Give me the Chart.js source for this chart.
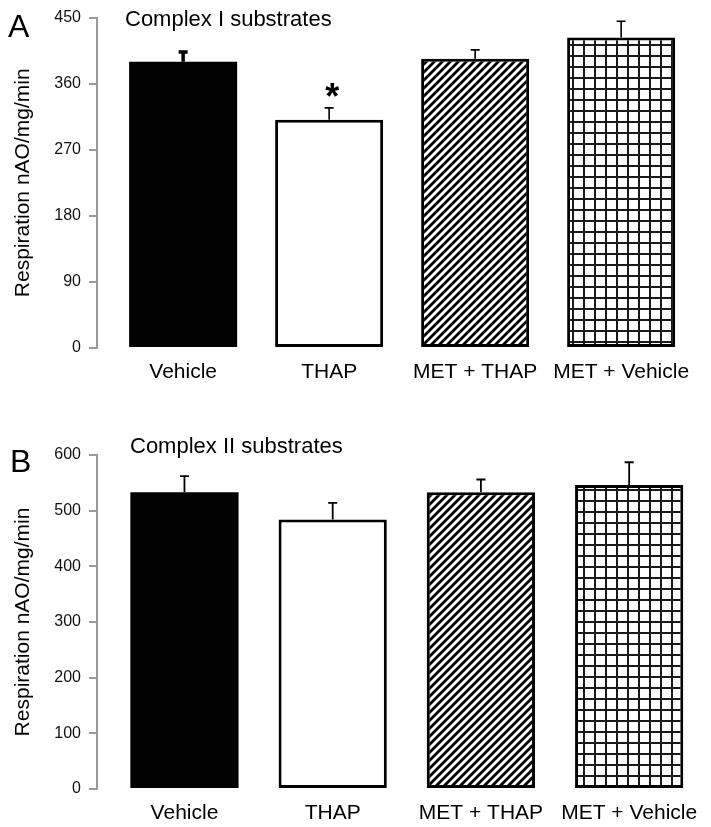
<!DOCTYPE html>
<html>
<head>
<meta charset="utf-8">
<script src="https://cdn.jsdelivr.net/npm/chart.js@4.4.1/dist/chart.umd.min.js"></script>
<style>
  html, body { margin: 0; padding: 0; background: #fff; }
  #wrap { position: relative; width: 711px; height: 827px; }
  .panel { position: absolute; left: 0; }
</style>
</head>
<body>
<div id="wrap">
  <canvas id="chartA" class="panel" width="711" height="390" style="top:0"></canvas>
  <canvas id="chartB" class="panel" width="711" height="437" style="top:390px"></canvas>
</div>
<script>
const groups = ['Vehicle', 'THAP', 'MET + THAP', 'MET + Vehicle'];

// Panel A - Complex I substrates
const complexIMean = [390, 311, 394, 423];
const complexISem = [13, 16, 12, 22];
const complexITicks = [0, 90, 180, 270, 360, 450];
const complexIStars = [false, true, false, false];

// Panel B - Complex II substrates
const complexIIMean = [533, 484, 533, 546];
const complexIISem = [29, 30, 23, 41];
const complexIITicks = [0, 100, 200, 300, 400, 500, 600];

const FONT = "'Liberation Sans', Arial, sans-serif";

function makeHatch() {
    const t = document.createElement('canvas');
    t.width = 8; t.height = 8;
    const c = t.getContext('2d');
    c.fillStyle = '#fff';
    c.fillRect(0, 0, 8, 8);
    c.strokeStyle = '#000';
    c.lineWidth = 2.8;
    c.beginPath();
    c.moveTo(-1, 9); c.lineTo(9, -1);
    c.moveTo(-1, 1); c.lineTo(1, -1);
    c.moveTo(7, 9); c.lineTo(9, 7);
    c.stroke();
    return c.createPattern(t, 'repeat');
}

function makeGrid() {
    const t = document.createElement('canvas');
    t.width = 11; t.height = 11;
    const c = t.getContext('2d');
    c.fillStyle = '#fff';
    c.fillRect(0, 0, 11, 11);
    c.fillStyle = '#1a1a1a';
    c.fillRect(0, 0, 2, 11);
    c.fillRect(0, 0, 11, 2);
    return c.createPattern(t, 'repeat');
}

const errorBarsPlugin = {
    id: 'errorBars',
    afterDatasetsDraw(chart, args, o) {
        const meta = chart.getDatasetMeta(0);
        const yScale = chart.scales.y;
        const c = chart.ctx;
        c.save();
        c.strokeStyle = '#000';
        c.fillStyle = '#000';
        meta.data.forEach((bar, i) => {
            const base = yScale.getPixelForValue(o.mean[i]);
            const top = yScale.getPixelForValue(o.mean[i] + o.sem[i]);
            c.lineWidth = o.widths[i];
            c.beginPath();
            c.moveTo(bar.x, base);
            c.lineTo(bar.x, top);
            c.moveTo(bar.x - o.cap, top);
            c.lineTo(bar.x + o.cap, top);
            c.stroke();
            if (o.stars && o.stars[i]) {
                c.font = `bold 36px ${FONT}`;
                c.textAlign = 'center';
                c.textBaseline = 'middle';
                c.fillText('*', bar.x + 3, top - 9);
            }
        });
        c.restore();
    }
};

const panelTextPlugin = {
    id: 'panelText',
    afterDraw(chart, args, o) {
        const c = chart.ctx;
        c.save();
        c.fillStyle = '#000';
        c.textAlign = 'left';
        c.textBaseline = 'alphabetic';
        c.font = `32px ${FONT}`;
        c.fillText(o.letter, o.letterX, o.letterY);
        c.font = `22px ${FONT}`;
        c.fillText(o.title, o.titleX, o.titleY);
        c.restore();
    }
};

function makeChart(id, cfg) {
    const ctx = document.getElementById(id).getContext('2d');
    return new Chart(ctx, {
        type: 'bar',
        data: {
            datasets: [{
                data: cfg.mean.map((v, i) => ({ x: i, y: v })),
                backgroundColor: ['#000', '#fff', makeHatch(), makeGrid()],
                borderColor: '#000',
                borderWidth: [0, 3, 3, 3],
                borderSkipped: false,
                categoryPercentage: 1,
                barPercentage: cfg.barPct
            }]
        },
        options: {
            responsive: false,
            animation: false,
            devicePixelRatio: 1,
            layout: { padding: { left: 8, right: cfg.padRight, top: cfg.padTop, bottom: 0 } },
            plugins: {
                legend: { display: false },
                tooltip: { enabled: false },
                errorBars: { mean: cfg.mean, sem: cfg.sem, widths: cfg.errWidths, cap: 4.5, stars: cfg.stars },
                panelText: cfg.text
            },
            scales: {
                x: {
                    type: 'linear',
                    offset: false,
                    min: -0.59,
                    max: 3.41,
                    grid: { display: false, drawTicks: false, offset: false },
                    border: { display: false },
                    afterBuildTicks: s => { s.ticks = groups.map((g, i) => ({ value: i })); },
                    afterFit: s => { s.height = cfg.xHeight; },
                    ticks: {
                        autoSkip: false,
                        maxRotation: 0,
                        padding: 12,
                        color: '#000',
                        font: { family: FONT, size: 21 },
                        callback: v => groups[v]
                    }
                },
                y: {
                    min: 0,
                    max: cfg.ticks[cfg.ticks.length - 1],
                    afterBuildTicks: s => { s.ticks = cfg.ticks.map(v => ({ value: v })); },
                    afterFit: s => { s.width = 89; },
                    grid: { display: true, drawOnChartArea: false, drawTicks: true, tickLength: 8, color: '#999', lineWidth: 2 },
                    border: { display: true, color: '#999', width: 2 },
                    ticks: { padding: 8, color: '#111', font: { family: FONT, size: 16 } },
                    title: {
                        display: true,
                        text: 'Respiration nAO/mg/min',
                        color: '#000',
                        font: { family: FONT, size: 21 },
                        padding: { top: 3, bottom: 0 }
                    }
                }
            }
        },
        plugins: [errorBarsPlugin, panelTextPlugin]
    });
}

makeChart('chartA', {
    mean: complexIMean,
    sem: complexISem,
    ticks: complexITicks,
    stars: complexIStars,
    errWidths: [3.5, 1.6, 1.6, 1.6],
    barPct: 0.74,
    padTop: 15,
    padRight: 30,
    xHeight: 42,
    text: { letter: 'A', letterX: 8, letterY: 37, title: 'Complex I substrates', titleX: 125, titleY: 26 }
});

makeChart('chartB', {
    mean: complexIIMean,
    sem: complexIISem,
    ticks: complexIITicks,
    stars: null,
    errWidths: [1.8, 1.8, 1.8, 1.8],
    barPct: 0.73,
    padTop: 65,
    padRight: 18,
    xHeight: 38,
    text: { letter: 'B', letterX: 10, letterY: 82, title: 'Complex II substrates', titleX: 130, titleY: 63 }
});
</script>
</body>
</html>
